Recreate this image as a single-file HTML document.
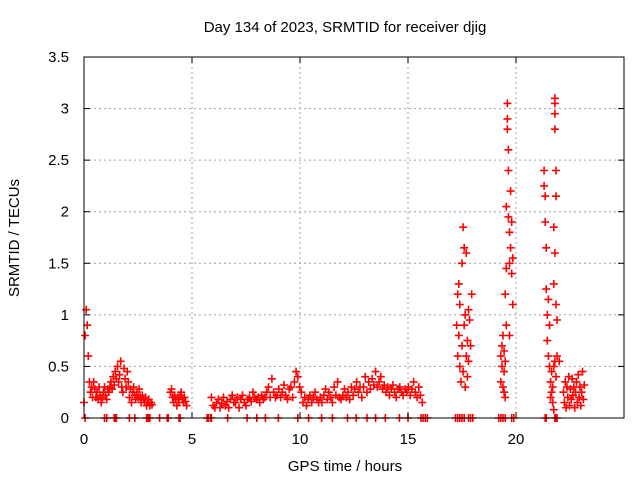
<!DOCTYPE html>
<html><head><meta charset="utf-8"><style>
body{margin:0;background:#fff}
svg{display:block;font-family:"Liberation Sans",sans-serif;font-size:15px}
</style></head><body>
<svg id="c" width="640" height="480">
<rect width="640" height="480" fill="#fff"/>
<g id="grid"></g>
<g id="marks"></g>
<g id="axes"></g>
<text x="345" y="32" text-anchor="middle">Day 134 of 2023, SRMTID for receiver djig</text>
<text x="345" y="471" text-anchor="middle">GPS time / hours</text>
<text transform="translate(19,238) rotate(-90)" text-anchor="middle">SRMTID / TECUs</text>
</svg>
<script>
const xTicks=[0,5,10,15,20];
const yTicks=[0,0.5,1,1.5,2,2.5,3,3.5];
const yTickLabels=["0","0.5","1","1.5","2","2.5","3","3.5"];
// dense segments: start hour, step hour, values
const segAStart=0.0, segAStep=0.05;
const segAValues=[0.15,0.8,1.05,0.9,0.6,0.35,0.25,0.3,0.2,0.35,0.28,0.2,0.25,0.18,0.3,0.22,0.15,0.2,0.25,0.3,0.22,0.18,0.28,0.25,0.3,0.35,0.28,0.4,0.32,0.45,0.38,0.5,0.35,0.42,0.55,0.3,0.25,0.48,0.38,0.3,0.45,0.35,0.2,0.28,0.15,0.25,0.3,0.22,0.18,0.25,0.2,0.28,0.2,0.15,0.22,0.18,0.15,0.2,0.12,0.15,0.18,0.12,0.15,0.13];
const segBStart=4.0, segBStep=0.05;
const segBValues=[0.25,0.28,0.2,0.15,0.22,0.18,0.12,0.2,0.15,0.22,0.25,0.18,0.15,0.2,0.16,0.12];
const segCStart=5.9, segCStep=0.08;
const segCValues=[0.2,0.12,0.1,0.15,0.18,0.1,0.14,0.2,0.12,0.16,0.1,0.18,0.22,0.15,
0.15,0.2,0.1,0.18,0.22,0.15,0.12,0.18,0.2,0.16,0.25,0.2,
0.18,0.2,0.15,0.22,0.18,0.2,0.25,0.3,0.2,0.38,0.25,0.2,
0.22,0.28,0.2,0.25,0.32,0.22,0.18,0.28,0.3,0.2,0.35,0.45,0.4,
0.3,0.25,0.15,0.2,0.12,0.18,0.22,0.15,0.2,0.25,0.18,0.15,
0.2,0.15,0.22,0.28,0.18,0.25,0.2,0.15,0.3,0.22,0.35,0.2,0.18,
0.22,0.28,0.2,0.25,0.18,0.3,0.22,0.28,0.35,0.25,0.3,0.2,
0.3,0.4,0.25,0.35,0.28,0.38,0.32,0.45,0.3,0.35,0.4,0.28,0.32,
0.25,0.3,0.22,0.28,0.32,0.25,0.2,0.28,0.3,0.25,0.22,0.28,
0.25,0.3,0.22,0.28,0.35,0.25,0.2,0.3,0.22,0.15];
const segDStart=22.2, segDStep=0.04;
const segDValues=[0.25,0.15,0.35,0.1,0.3,0.2,0.4,0.12,0.28,0.18,0.38,0.22,0.3,0.1,0.25,0.35,0.15,0.42,0.2,0.3,0.12,0.25,0.45,0.18,0.32];
// sparse spiky points
const spikeHours=[17.25,17.3,17.3,17.35,17.35,17.4,17.4,17.45,17.5,17.5,17.55,17.55,17.6,17.6,17.65,17.65,17.7,17.7,17.75,17.75,17.8,17.8,17.85,17.9,17.95,
19.3,19.3,19.35,19.35,19.4,19.4,19.45,19.45,19.5,19.5,19.55,19.55,19.6,19.6,19.6,19.65,19.65,19.65,19.7,19.7,19.75,19.75,19.8,19.8,19.85,19.85,19.5,19.45,19.55,19.7,
21.3,21.3,21.35,21.35,21.4,21.4,21.45,21.45,21.5,21.5,21.55,21.55,21.6,21.6,21.65,21.65,21.7,21.7,21.75,21.75,21.8,21.8,21.8,21.8,21.85,21.85,21.75,21.8,21.75,21.85,21.8,21.9,21.9,21.85,22.0];
const spikeValues=[0.9,1.2,0.6,1.3,0.8,0.5,1.1,0.35,0.7,1.5,1.85,0.45,1.65,0.9,0.3,1.0,0.6,1.6,0.75,0.4,1.05,0.55,0.95,0.7,1.2,
0.6,0.35,0.7,0.5,0.3,0.8,0.45,0.65,0.2,1.2,1.45,2.05,3.05,2.9,2.8,2.6,2.4,1.95,1.5,1.8,2.2,1.65,1.4,1.9,1.55,1.1,0.55,0.25,0.9,0.8,
2.4,2.25,2.15,1.9,1.65,1.25,1.0,0.75,0.6,1.15,0.5,0.9,0.35,0.2,0.45,0.25,0.15,0.3,0.08,0.5,3.1,3.05,2.95,2.8,2.4,2.15,1.85,1.6,1.3,1.1,0.55,0.6,0.95,0.4,0.55];
const zeroHours=[0.05,0.95,1.05,1.4,1.45,1.5,2.1,2.35,2.9,2.95,3.0,3.05,3.5,3.85,3.9,4.4,4.45,5.7,5.75,5.85,5.9,6.65,7.55,8.0,8.4,9.0,9.9,10.4,11.0,11.5,12.2,12.6,13.1,13.5,13.95,14.6,15.0,15.6,15.7,15.8,15.9,17.2,17.3,17.4,17.5,17.6,17.8,17.9,18.0,19.2,19.3,19.4,19.5,19.8,19.9,21.35,21.4,21.8,21.85,21.9];

const L=84,R=624,T=57,B=418,XMAX=25,YMAX=3.5;
const xs=h=>L+(R-L)*h/XMAX;
const ys=v=>B-(B-T)*v/YMAX;
const NS="http://www.w3.org/2000/svg";
function mk(tag,attrs,parent){const e=document.createElementNS(NS,tag);for(const k in attrs)e.setAttribute(k,attrs[k]);parent.appendChild(e);return e;}
const grid=document.getElementById('grid'),axes=document.getElementById('axes'),marks=document.getElementById('marks');
xTicks.forEach(t=>{const x=xs(t);
 if(t>0){const g=mk('line',{x1:x,x2:x,y1:T,y2:B,stroke:'#a0a0a0','stroke-dasharray':'2,3'},grid);
 
 }
 mk('line',{x1:x,x2:x,y1:B,y2:B-6,stroke:'#000'},axes);
 mk('line',{x1:x,x2:x,y1:T,y2:T+6,stroke:'#000'},axes);
 const tx=mk('text',{x:x,y:B+26,'text-anchor':'middle'},axes);tx.textContent=String(t);
 
 
});
yTicks.forEach((t,i)=>{const y=ys(t);
 if(t>0&&t<YMAX){const g=mk('line',{x1:L,x2:R,y1:y,y2:y,stroke:'#a0a0a0','stroke-dasharray':'2,3'},grid);
 
 }
 mk('line',{x1:L,x2:L+6,y1:y,y2:y,stroke:'#000'},axes);
 mk('line',{x1:R,x2:R-6,y1:y,y2:y,stroke:'#000'},axes);
 const tx=mk('text',{x:L-15,y:y+5,'text-anchor':'end'},axes);tx.textContent=yTickLabels[i];
 
 
});
const frame=mk('rect',{x:L,y:T,width:R-L,height:B-T,fill:'none',stroke:'#000'},axes);


let d='';
function plus(h,v){const x=xs(h),y=ys(v);d+=`M${(x-4).toFixed(1)} ${y.toFixed(1)}h8M${x.toFixed(1)} ${(y-4).toFixed(1)}v8`;}
[[segAStart,segAStep,segAValues],[segBStart,segBStep,segBValues],[segCStart,segCStep,segCValues],[segDStart,segDStep,segDValues]].forEach(([s,st,vals])=>vals.forEach((v,i)=>plus(s+i*st,v)));
spikeHours.forEach((h,i)=>plus(h,spikeValues[i]));
zeroHours.forEach(h=>plus(h,0));
const p=mk('path',{d:d,stroke:'#ff0000','stroke-width':1.6,fill:'none'},marks);


</script>
</body></html>
